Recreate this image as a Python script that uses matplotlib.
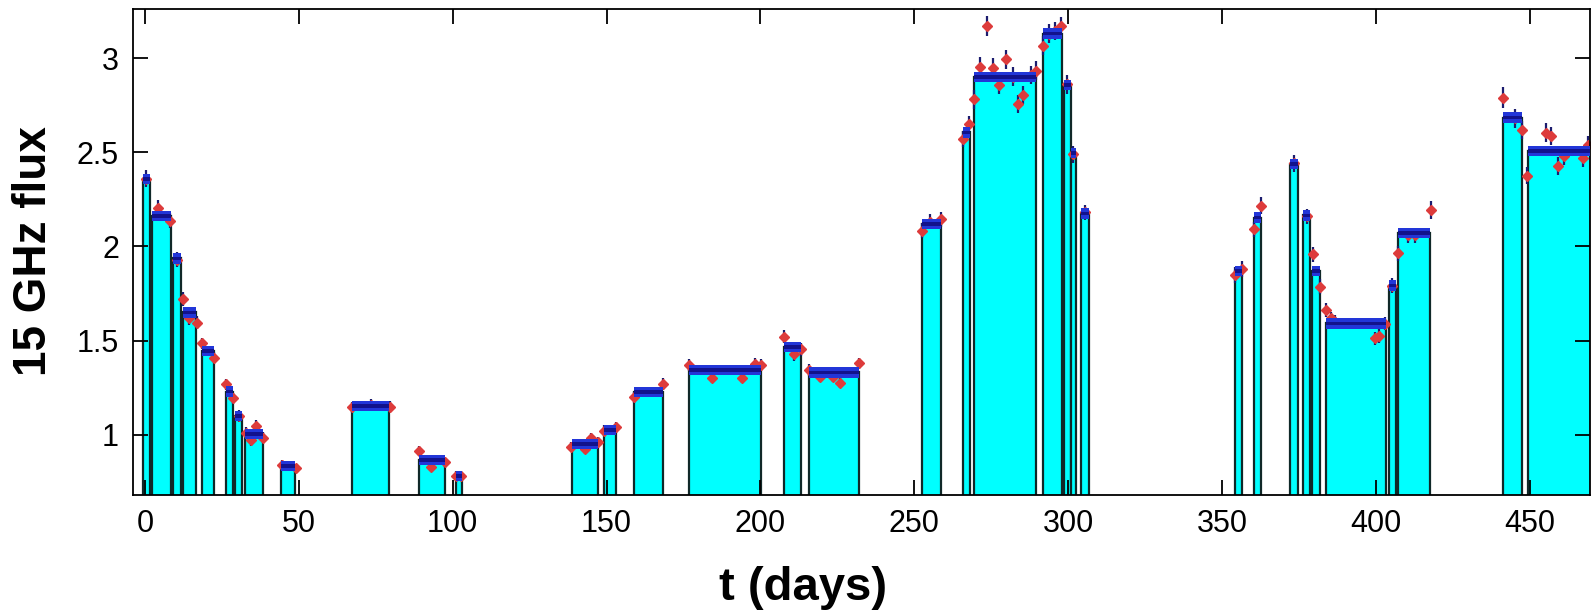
"""
Bayesian blocks of the 15 GHz light curve
"""

import numpy as np
import matplotlib
matplotlib.use('Agg')
import matplotlib.pyplot as plt

# ── Blocks (edges in days, block amplitude) ───────────────────
block_lo  = [-0.6, 2.2, 9.2, 12.4, 18.6, 26.3, 29.2, 32.5, 44.2, 67.4,
             89.0, 101.2, 138.9, 149.0, 158.9, 176.9, 207.8, 215.9,
             252.5, 265.8, 269.4, 291.7, 298.7, 301.0, 304.3,
             354.1, 360.3, 372.2, 376.3, 379.3, 383.7, 404.2, 407.2,
             441.2, 449.4]
block_hi  = [1.8, 8.4, 11.6, 16.6, 22.3, 28.5, 31.6, 38.2, 48.6, 79.3,
             97.4, 103.1, 147.2, 152.9, 168.3, 200.2, 213.0, 231.9,
             258.7, 268.1, 289.5, 297.9, 300.8, 302.5, 306.6,
             356.5, 362.7, 374.6, 378.6, 381.7, 403.2, 406.4, 417.5,
             447.5, 469.8]
block_val = [2.358, 2.161, 1.936, 1.649, 1.445, 1.229, 1.100, 1.004, 0.834, 1.153,
             0.866, 0.781, 0.951, 1.026, 1.227, 1.344, 1.466, 1.331,
             2.119, 2.605, 2.899, 3.130, 2.857, 2.496, 2.175,
             1.869, 2.153, 2.437, 2.164, 1.869, 1.591, 1.792, 2.070,
             2.684, 2.506]

# ── Observations ──────────────────────────────────────────────
obs_t    = [0.5, 4.3, 8.1, 10.4, 12.4, 14.4, 16.8, 18.6, 22.5, 26.3, 28.5, 30.4,
            32.8, 34.6, 36.0, 38.4, 44.5, 49.0, 67.4, 73.6, 79.5,
            89.0, 93.1, 97.6, 101.2, 102.6,
            138.5, 142.9, 145.0, 147.2, 149.0, 152.9, 158.9, 168.3,
            176.9, 184.2, 193.9, 198.1, 200.2, 207.8, 210.8, 213.0,
            215.7, 219.4, 223.5, 225.9, 231.9,
            252.5, 255.0, 258.7, 265.8, 267.8,
            269.4, 271.4, 273.6, 275.6, 277.6, 279.8, 282.0, 283.8, 285.4, 287.9, 289.5,
            291.7, 293.7, 295.8, 297.8, 299.7, 301.7, 305.4,
            354.1, 356.5, 360.3, 362.7, 373.4, 377.5, 379.5, 381.7,
            383.7, 385.3, 386.7, 399.6, 401.1, 403.0, 405.3,
            407.2, 410.3, 412.5, 417.7,
            441.2, 445.3, 447.3, 449.2, 455.1, 457.0, 459.2, 461.0, 467.2, 468.9]
obs_flux = [2.36, 2.202, 2.135, 1.93, 1.721, 1.618, 1.595, 1.486, 1.409, 1.268, 1.194, 1.10,
            1.01, 0.972, 1.048, 0.985, 0.84, 0.822, 1.146, 1.16, 1.149,
            0.914, 0.831, 0.854, 0.781, 0.781,
            0.937, 0.925, 0.985, 0.964, 1.022, 1.040, 1.199, 1.270,
            1.370, 1.303, 1.303, 1.376, 1.370, 1.521, 1.427, 1.454,
            1.344, 1.309, 1.309, 1.277, 1.380,
            2.082, 2.13, 2.144, 2.570, 2.648,
            2.781, 2.954, 3.170, 2.949, 2.857, 2.993, 2.90, 2.756, 2.804, 2.91, 2.933,
            3.065, 3.13, 3.143, 3.170, 2.86, 2.49, 2.18,
            1.848, 1.880, 2.092, 2.216, 2.44, 2.16, 1.958, 1.786,
            1.662, 1.618, 1.60, 1.512, 1.524, 1.59, 1.79,
            1.963, 2.06, 2.06, 2.193,
            2.789, 2.68, 2.618, 2.375, 2.604, 2.586, 2.427, 2.48, 2.471, 2.538]
obs_err  = [0.045, 0.045, 0.04, 0.04, 0.035, 0.035, 0.035, 0.03, 0.03, 0.03, 0.03, 0.03,
            0.03, 0.03, 0.03, 0.03, 0.025, 0.025, 0.03, 0.03, 0.03,
            0.025, 0.025, 0.025, 0.025, 0.025,
            0.025, 0.025, 0.025, 0.025, 0.03, 0.03, 0.03, 0.03,
            0.03, 0.03, 0.03, 0.03, 0.03, 0.035, 0.035, 0.035,
            0.03, 0.03, 0.03, 0.03, 0.03,
            0.04, 0.04, 0.04, 0.045, 0.045,
            0.05, 0.05, 0.055, 0.05, 0.05, 0.05, 0.05, 0.05, 0.05, 0.05, 0.05,
            0.05, 0.05, 0.05, 0.05, 0.05, 0.045, 0.04,
            0.04, 0.04, 0.04, 0.045, 0.045, 0.04, 0.04, 0.04,
            0.035, 0.035, 0.035, 0.035, 0.035, 0.035, 0.04,
            0.04, 0.04, 0.04, 0.05,
            0.055, 0.05, 0.05, 0.045, 0.05, 0.05, 0.05, 0.05, 0.05, 0.05]

y_ticks       = [1, 1.5, 2, 2.5, 3]
y_tick_labels = ['1', '1.5', '2', '2.5', '3']
x_ticks       = [0, 50, 100, 150, 200, 250, 300, 350, 400, 450]

# ── Style ─────────────────────────────────────────────────────
plt.rcParams.update({
    'font.family': ['Liberation Sans', 'DejaVu Sans'],
    'axes.linewidth': 1.3,
})
CYAN  = '#00ffff'
EDGE  = '#102828'
BLUE  = '#2236d8'
NAVY  = '#12128c'
RED   = '#dd3b3b'
BAND  = 0.055

fig = plt.figure(figsize=(15.96, 6.10), dpi=100)
ax = fig.add_axes([0.0833, 0.1885, 0.9129, 0.7967])

lo  = np.array(block_lo)
hi  = np.array(block_hi)
val = np.array(block_val)

ax.bar(lo, val, width=hi - lo, align='edge', color=CYAN,
       edgecolor=EDGE, linewidth=1.6, zorder=1)
ax.errorbar(obs_t, obs_flux, yerr=obs_err, fmt='D', ms=5.5,
            mfc=RED, mec=RED, ecolor='#1c1c6e', elinewidth=1.6,
            capsize=0, zorder=2)
# block error band on top of each block
ax.bar(lo, BAND, bottom=val - BAND / 2, width=hi - lo, align='edge',
       color=BLUE, linewidth=0, zorder=3)
ax.bar(lo, BAND / 3, bottom=val - BAND / 6, width=hi - lo, align='edge',
       color=NAVY, linewidth=0, zorder=3)

ax.set_xlim(-3.9, 469.5)
ax.set_ylim(0.68, 3.26)
ax.set_xticks(x_ticks)
ax.set_yticks(y_ticks)
ax.set_yticklabels(y_tick_labels)
ax.tick_params(direction='in', length=11, width=1.3, top=True, right=True,
               labelsize=22, pad=10)

ax.set_xlabel('t (days)', fontsize=34, fontweight='bold', va='center')
ax.set_ylabel('15 GHz flux', fontsize=33, fontweight='bold', va='center')
ax.xaxis.set_label_coords(0.46, -0.191)
ax.yaxis.set_label_coords(-0.0679, 0.502)

fig.savefig('out.png', dpi=100, facecolor='white')
